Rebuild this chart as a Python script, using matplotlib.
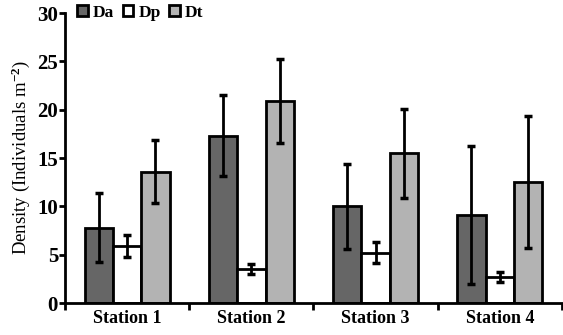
import numpy as np
import matplotlib
matplotlib.use("Agg")
from matplotlib import pyplot as plt

stations = ["Station 1", "Station 2", "Station 3", "Station 4"]
da = [7.8, 17.3, 10.0, 9.1]
da_err = [3.6, 4.2, 4.4, 7.1]
dp = [5.9, 3.5, 5.2, 2.7]
dp_err = [1.15, 0.55, 1.1, 0.55]
dt = [13.6, 20.9, 15.5, 12.5]
dt_err = [3.3, 4.3, 4.6, 6.8]

plt.rcParams['font.family'] = ['Liberation Serif', 'DejaVu Serif']
plt.rcParams['font.weight'] = 'bold'
plt.rcParams['mathtext.fontset'] = 'custom'
plt.rcParams['mathtext.rm'] = 'Liberation Serif:bold'
plt.rcParams['mathtext.it'] = 'Liberation Serif:bold'

fig = plt.figure(figsize=(5.63, 3.35), dpi=100)
ax = fig.add_axes([0.1155, 0.0955, 0.8825, 0.8655])

x = np.arange(len(stations)) + 0.5
w = 0.228
series = [(da, da_err, '#666666', 'Da'),
          (dp, dp_err, '#ffffff', 'Dp'),
          (dt, dt_err, '#b3b3b3', 'Dt')]
for i, (vals, errs, col, lab) in enumerate(series):
    pos = x + (i - 1) * w
    ax.bar(pos, vals, w, color=col, edgecolor='black', linewidth=2, label=lab, zorder=2)
    ax.errorbar(pos, vals, yerr=errs, fmt='none', ecolor='black', elinewidth=2,
                capsize=3.2, capthick=2.5, zorder=3)

ax.set_xlim(0, 4)
ax.set_ylim(0, 30)
ax.set_yticks(range(0, 31, 5))
ax.set_xticks([0, 1, 2, 3, 4])
ax.set_xticklabels([])
ax.set_xticks(x, minor=True)
ax.set_xticklabels(stations, minor=True)
ax.tick_params(axis='x', which='minor', length=0, labelsize=13, pad=5)
ax.tick_params(axis='x', which='major', length=5, width=2, direction='out')
ax.tick_params(axis='y', length=4, width=2, labelsize=15, pad=1)
for s in ['top', 'right']:
    ax.spines[s].set_visible(False)
for s in ['left', 'bottom']:
    ax.spines[s].set_linewidth(2)
ax.set_ylabel('Density (Individuals m$^{-2}$)', fontsize=13.5, labelpad=4)

ax.legend(loc='upper left', ncol=3, frameon=False, fontsize=12.5, handlelength=0.6,
          handleheight=0.6, handletextpad=0.3, columnspacing=0.5,
          bbox_to_anchor=(0.0, 1.07), borderaxespad=0.3)

fig.savefig('out.png', dpi=100)
